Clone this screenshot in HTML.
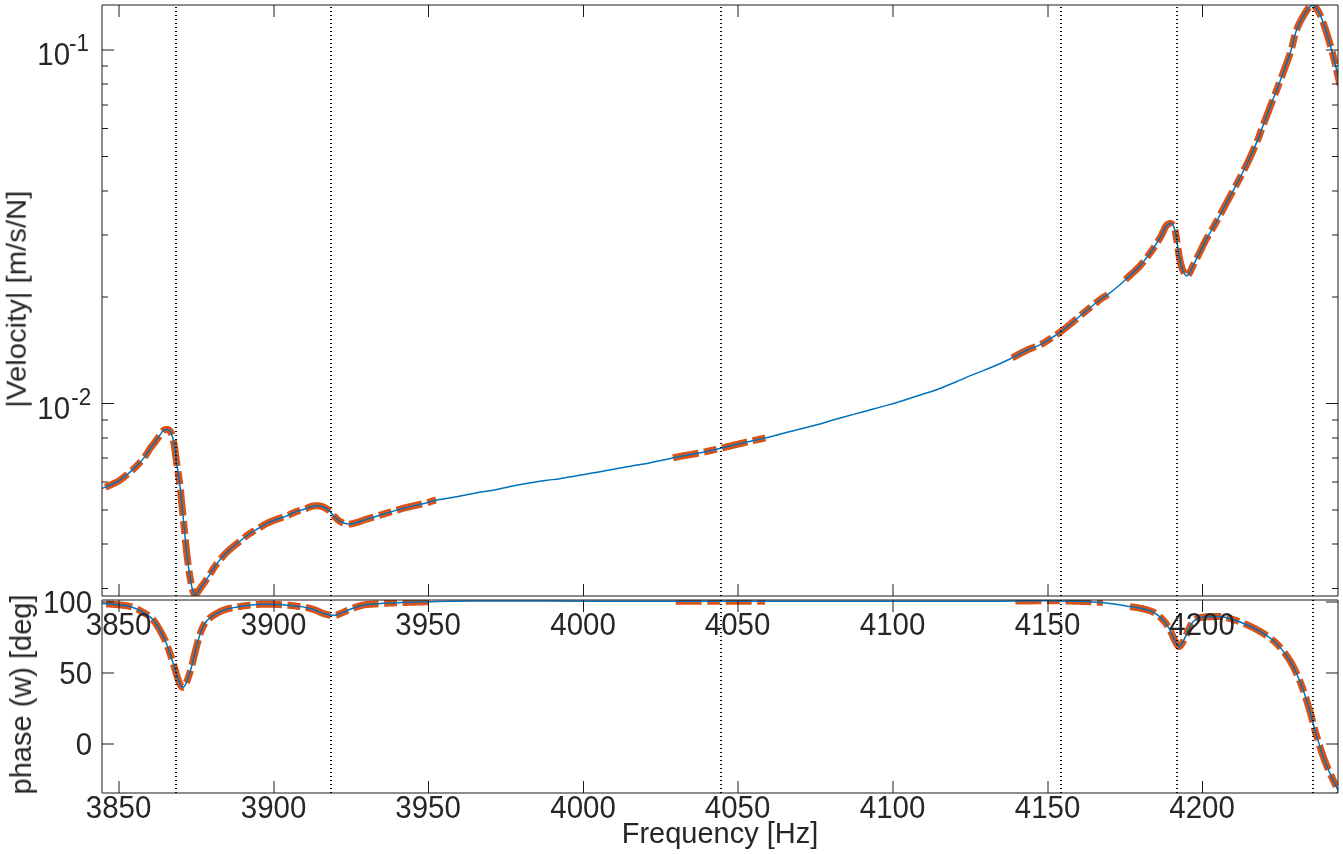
<!DOCTYPE html><html><head><meta charset="utf-8"><style>html,body{margin:0;padding:0;background:#fff;overflow:hidden}svg{display:block;font-family:"Liberation Sans",sans-serif}text{will-change:transform}</style></head><body>
<svg width="1343" height="854" viewBox="0 0 1343 854">
<rect x="0" y="0" width="1343" height="854" fill="#fff"/>
<defs><clipPath id="c1"><rect x="102" y="5" width="1236" height="591"/></clipPath><clipPath id="c2"><rect x="102" y="600" width="1236" height="193"/></clipPath></defs>
<g clip-path="url(#c1)">
<path d="M105.30,487.20L105.77,487.01L106.25,486.82L106.73,486.62L107.22,486.42L107.71,486.21L108.20,486.01L108.68,485.80L109.15,485.60L109.62,485.39L110.07,485.19L110.50,485.00L110.92,484.81L111.35,484.62L111.77,484.43L112.20,484.24L112.62,484.05L113.05,483.86L113.47,483.67L113.90,483.48L114.32,483.29L114.75,483.09L115.18,482.89L115.60,482.68L116.03,482.47L116.45,482.25L116.88,482.03L117.30,481.80L117.73,481.56L118.15,481.32L118.58,481.06L119.00,480.80L119.42,480.53L119.84,480.25L120.27,479.96L120.69,479.66L121.11,479.36L121.53,479.05L121.95,478.73L122.37,478.41L122.79,478.08L123.21,477.75L123.63,477.41L124.04,477.08L124.46,476.73L124.88,476.39L125.30,476.04L125.72,475.69L126.14,475.35L126.56,475.00L126.98,474.65L127.40,474.30L127.82,473.95L128.24,473.61L128.66,473.26L129.08,472.91L129.50,472.56L129.92,472.21L130.34,471.86L130.76,471.51L131.17,471.15L131.59,470.79L132.01,470.42L132.43,470.05L132.85,469.68L133.27,469.30L133.69,468.92L134.11,468.53L134.53,468.13L134.96,467.73L135.38,467.32L135.80,466.90L136.23,466.47L136.66,466.03L137.10,465.58L137.54,465.12L137.98,464.66L138.43,464.18L138.88,463.70L139.33,463.22L139.77,462.73L140.22,462.24L140.66,461.74L141.10,461.25L141.53,460.76L141.95,460.26L142.37,459.77L142.78,459.29L143.18,458.81L143.56,458.33L143.94,457.86L144.30,457.40L144.65,456.94L144.99,456.48L145.32,456.02L145.64,455.55L145.95,455.09L146.25,454.62L146.54,454.16L146.83,453.70L147.11,453.24L147.39,452.79L147.66,452.34L147.93,451.89L148.19,451.45L148.45,451.02L148.71,450.59L148.97,450.18L149.23,449.77L149.48,449.37L149.74,448.98L150.00,448.60L150.26,448.23L150.51,447.88L150.76,447.54L151.00,447.22L151.25,446.90L151.48,446.59L151.72,446.29L151.95,445.99L152.18,445.70L152.41,445.41L152.64,445.13L152.87,444.85L153.09,444.56L153.32,444.28L153.55,444.00L153.78,443.71L154.00,443.42L154.23,443.12L154.47,442.81L154.70,442.50L154.94,442.18L155.17,441.85L155.41,441.52L155.66,441.19L155.90,440.85L156.14,440.51L156.38,440.17L156.63,439.82L156.87,439.48L157.11,439.14L157.35,438.80L157.59,438.46L157.83,438.12L158.06,437.79L158.30,437.46L158.52,437.13L158.75,436.81L158.97,436.50L159.19,436.20L159.40,435.90L159.61,435.61L159.81,435.31L160.01,435.02L160.20,434.72L160.39,434.43L160.58,434.14L160.76,433.86L160.95,433.57L161.13,433.30L161.31,433.03L161.48,432.76L161.66,432.50L161.84,432.25L162.01,432.01L162.19,431.78L162.37,431.56L162.55,431.35L162.73,431.15L162.91,430.97L163.10,430.80L163.29,430.64L163.48,430.50L163.67,430.36L163.86,430.23L164.05,430.11L164.25,430.01L164.44,429.91L164.64,429.82L164.83,429.74L165.03,429.67L165.22,429.61L165.41,429.55L165.60,429.51L165.79,429.47L165.98,429.44L166.17,429.42L166.36,429.40L166.54,429.39L166.72,429.39L166.90,429.40L167.08,429.41L167.25,429.43L167.43,429.46L167.61,429.49L167.78,429.53L167.96,429.58L168.13,429.64L168.30,429.70L168.47,429.78L168.64,429.86L168.81,429.95L168.98,430.05L169.14,430.15L169.30,430.27L169.46,430.40L169.61,430.54L169.76,430.69L169.91,430.85L170.06,431.02L170.20,431.20L170.34,431.39L170.47,431.60L170.60,431.81L170.73,432.03L170.85,432.26L170.98,432.51L171.09,432.76L171.21,433.02L171.33,433.29L171.44,433.57L171.55,433.87L171.66,434.17L171.76,434.48L171.87,434.80L171.98,435.12L172.08,435.46L172.19,435.81L172.29,436.16L172.40,436.53L172.50,436.90L172.60,437.28L172.71,437.67L172.81,438.07L172.91,438.48L173.01,438.90L173.10,439.33L173.20,439.77L173.29,440.22L173.39,440.67L173.48,441.14L173.57,441.61L173.67,442.10L173.76,442.59L173.85,443.09L173.94,443.60L174.03,444.12L174.12,444.65L174.22,445.19L174.31,445.74L174.40,446.30L174.49,446.87L174.58,447.46L174.67,448.06L174.76,448.68L174.85,449.31L174.94,449.96L175.03,450.61L175.12,451.27L175.21,451.94L175.30,452.62L175.39,453.30L175.48,453.98L175.57,454.67L175.66,455.35L175.75,456.04L175.84,456.72L175.93,457.40L176.02,458.07L176.11,458.74L176.20,459.40L176.29,460.05L176.39,460.71L176.48,461.36L176.57,462.02L176.67,462.68L176.76,463.33L176.86,463.99L176.95,464.64L177.05,465.30L177.14,465.95L177.24,466.61L177.34,467.26L177.43,467.91L177.53,468.57L177.62,469.23L177.72,469.88L177.81,470.53L177.91,471.19L178.00,471.85L178.10,472.50L178.20,473.15L178.29,473.80L178.39,474.45L178.49,475.10L178.59,475.74L178.69,476.39L178.78,477.03L178.88,477.68L178.98,478.32L179.08,478.97L179.18,479.62L179.28,480.27L179.37,480.92L179.47,481.57L179.56,482.23L179.65,482.90L179.74,483.56L179.83,484.24L179.92,484.92L180.00,485.60L180.08,486.29L180.16,486.97L180.23,487.66L180.31,488.34L180.38,489.02L180.44,489.71L180.51,490.40L180.58,491.09L180.64,491.79L180.71,492.49L180.77,493.20L180.84,493.92L180.90,494.64L180.97,495.37L181.03,496.12L181.10,496.87L181.17,497.63L181.25,498.41L181.32,499.20L181.40,500.00L181.48,500.82L181.56,501.64L181.65,502.48L181.73,503.32L181.81,504.18L181.90,505.04L181.99,505.91L182.08,506.80L182.17,507.69L182.26,508.59L182.35,509.50L182.44,510.41L182.53,511.33L182.63,512.27L182.72,513.20L182.81,514.15L182.91,515.10L183.01,516.06L183.10,517.03L183.20,518.00L183.30,518.98L183.40,519.98L183.50,521.00L183.60,522.03L183.70,523.07L183.81,524.12L183.91,525.18L184.02,526.25L184.12,527.32L184.23,528.39L184.34,529.47L184.45,530.55L184.55,531.63L184.66,532.70L184.77,533.77L184.88,534.84L184.98,535.89L185.09,536.94L185.19,537.98L185.30,539.00L185.40,540.01L185.51,541.02L185.61,542.03L185.71,543.02L185.81,544.02L185.91,545.01L186.01,545.99L186.11,546.97L186.21,547.95L186.31,548.93L186.41,549.91L186.51,550.88L186.61,551.86L186.72,552.83L186.83,553.81L186.94,554.78L187.05,555.76L187.16,556.74L187.28,557.72L187.40,558.70L187.52,559.69L187.65,560.70L187.78,561.72L187.92,562.75L188.05,563.79L188.19,564.83L188.33,565.87L188.47,566.92L188.61,567.95L188.76,568.99L188.90,570.01L189.05,571.02L189.19,572.02L189.34,573.00L189.48,573.97L189.63,574.91L189.77,575.82L189.92,576.71L190.06,577.57L190.20,578.40L190.34,579.20L190.48,580.00L190.62,580.78L190.76,581.55L190.90,582.30L191.04,583.04L191.18,583.76L191.32,584.46L191.45,585.14L191.59,585.81L191.73,586.45L191.87,587.07L192.01,587.67L192.15,588.24L192.29,588.79L192.43,589.31L192.57,589.80L192.72,590.26L192.86,590.70L193.00,591.10L193.14,591.48L193.27,591.83L193.40,592.16L193.52,592.47L193.64,592.76L193.76,593.02L193.87,593.25L193.99,593.47L194.11,593.65L194.23,593.81L194.36,593.95L194.49,594.05L194.63,594.13L194.78,594.19L194.93,594.21L195.10,594.21L195.28,594.18L195.47,594.11L195.68,594.02L195.90,593.90L196.14,593.74L196.39,593.52L196.66,593.27L196.94,592.97L197.23,592.63L197.53,592.26L197.85,591.86L198.17,591.43L198.49,590.98L198.83,590.51L199.16,590.03L199.50,589.53L199.84,589.03L200.19,588.52L200.53,588.01L200.87,587.51L201.21,587.01L201.55,586.52L201.88,586.05L202.20,585.60L202.52,585.16L202.84,584.71L203.16,584.26L203.49,583.80L203.81,583.35L204.13,582.89L204.46,582.43L204.78,581.96L205.11,581.49L205.43,581.02L205.76,580.55L206.08,580.08L206.41,579.60L206.74,579.12L207.06,578.64L207.39,578.16L207.72,577.67L208.05,577.18L208.37,576.69L208.70,576.20L209.03,575.70L209.35,575.20L209.68,574.70L210.00,574.18L210.32,573.67L210.64,573.15L210.97,572.63L211.29,572.10L211.61,571.58L211.94,571.05L212.26,570.52L212.59,570.00L212.92,569.47L213.25,568.95L213.58,568.43L213.92,567.92L214.26,567.40L214.60,566.90L214.95,566.40L215.30,565.90L215.65,565.41L216.01,564.92L216.38,564.42L216.74,563.93L217.11,563.44L217.48,562.95L217.86,562.47L218.24,561.98L218.61,561.50L218.99,561.02L219.37,560.55L219.76,560.08L220.14,559.61L220.52,559.15L220.90,558.70L221.29,558.24L221.67,557.80L222.05,557.36L222.42,556.93L222.80,556.50L223.17,556.08L223.54,555.67L223.91,555.27L224.27,554.88L224.63,554.49L224.99,554.11L225.35,553.73L225.71,553.36L226.07,553.00L226.44,552.63L226.80,552.27L227.17,551.91L227.54,551.55L227.92,551.19L228.30,550.83L228.68,550.47L229.08,550.11L229.48,549.74L229.88,549.37L230.30,549.00L230.72,548.62L231.16,548.25L231.60,547.87L232.04,547.50L232.50,547.12L232.95,546.75L233.42,546.37L233.89,546.00L234.36,545.63L234.83,545.25L235.31,544.88L235.79,544.50L236.27,544.12L236.75,543.75L237.23,543.38L237.70,543.00L238.18,542.62L238.66,542.25L239.13,541.88L239.60,541.50L240.07,541.12L240.54,540.74L241.00,540.36L241.47,539.97L241.94,539.58L242.41,539.19L242.88,538.80L243.35,538.41L243.82,538.02L244.29,537.63L244.76,537.25L245.24,536.86L245.71,536.48L246.18,536.11L246.65,535.74L247.12,535.38L247.59,535.02L248.06,534.67L248.53,534.33L249.00,534.00L249.47,533.68L249.94,533.36L250.41,533.05L250.88,532.75L251.36,532.46L251.83,532.17L252.30,531.89L252.77,531.61L253.25,531.33L253.72,531.06L254.19,530.79L254.66,530.53L255.13,530.26L255.60,530.00L256.07,529.73L256.54,529.47L257.01,529.21L257.47,528.94L257.94,528.67L258.40,528.40L258.86,528.13L259.32,527.85L259.78,527.57L260.24,527.30L260.69,527.02L261.15,526.74L261.60,526.46L262.05,526.19L262.50,525.91L262.96,525.64L263.41,525.37L263.86,525.10L264.31,524.83L264.76,524.57L265.22,524.31L265.67,524.06L266.13,523.81L266.58,523.57L267.04,523.33L267.50,523.10L267.96,522.88L268.42,522.66L268.88,522.44L269.35,522.23L269.81,522.03L270.27,521.83L270.74,521.64L271.20,521.44L271.67,521.25L272.13,521.07L272.60,520.89L273.06,520.70L273.53,520.53L274.00,520.35L274.46,520.17L274.93,520.00L275.40,519.82L275.87,519.65L276.33,519.47L276.80,519.30L277.27,519.13L277.74,518.96L278.20,518.80L278.67,518.64L279.14,518.48L279.61,518.33L280.08,518.18L280.55,518.02L281.02,517.87L281.49,517.73L281.96,517.57L282.44,517.42L282.91,517.27L283.38,517.11L283.85,516.96L284.32,516.79L284.79,516.63L285.26,516.46L285.73,516.28L286.20,516.10L286.67,515.91L287.14,515.71L287.61,515.51L288.08,515.30L288.55,515.09L289.02,514.87L289.49,514.65L289.96,514.43L290.44,514.21L290.91,513.98L291.38,513.76L291.85,513.53L292.32,513.31L292.79,513.10L293.26,512.88L293.73,512.67L294.20,512.47L294.66,512.27L295.13,512.08L295.60,511.90L296.07,511.73L296.55,511.56L297.03,511.39L297.51,511.23L298.00,511.08L298.48,510.92L298.97,510.78L299.46,510.63L299.94,510.49L300.43,510.35L300.90,510.21L301.38,510.08L301.85,509.94L302.31,509.81L302.77,509.67L303.21,509.54L303.65,509.41L304.08,509.27L304.50,509.14L304.90,509.00L305.29,508.86L305.67,508.72L306.04,508.57L306.39,508.43L306.74,508.28L307.08,508.13L307.41,507.99L307.73,507.84L308.05,507.70L308.37,507.56L308.68,507.42L308.99,507.28L309.30,507.15L309.61,507.02L309.91,506.90L310.22,506.79L310.54,506.68L310.85,506.58L311.17,506.48L311.50,506.40L311.83,506.32L312.16,506.25L312.50,506.18L312.84,506.12L313.17,506.06L313.51,506.01L313.85,505.96L314.19,505.92L314.53,505.88L314.86,505.85L315.20,505.82L315.53,505.80L315.86,505.78L316.19,505.77L316.52,505.76L316.84,505.76L317.16,505.76L317.48,505.77L317.79,505.78L318.10,505.80L318.40,505.82L318.70,505.85L318.99,505.88L319.28,505.92L319.57,505.96L319.85,506.00L320.13,506.05L320.41,506.11L320.69,506.17L320.96,506.23L321.24,506.30L321.51,506.38L321.78,506.46L322.05,506.55L322.32,506.64L322.60,506.74L322.87,506.85L323.14,506.96L323.42,507.08L323.70,507.20L323.98,507.33L324.26,507.47L324.54,507.61L324.82,507.75L325.10,507.91L325.38,508.07L325.66,508.23L325.94,508.40L326.22,508.57L326.50,508.76L326.78,508.94L327.06,509.14L327.34,509.34L327.62,509.54L327.90,509.75L328.18,509.97L328.46,510.19L328.74,510.42L329.02,510.66L329.30,510.90L329.58,511.15L329.86,511.42L330.14,511.70L330.42,511.99L330.70,512.29L330.98,512.60L331.26,512.91L331.54,513.23L331.82,513.56L332.10,513.89L332.38,514.22L332.66,514.55L332.94,514.87L333.22,515.20L333.50,515.52L333.78,515.83L334.06,516.14L334.34,516.44L334.62,516.72L334.90,517.00L335.18,517.27L335.45,517.54L335.72,517.80L335.99,518.07L336.26,518.33L336.52,518.59L336.78,518.84L337.05,519.09L337.31,519.34L337.58,519.58L337.85,519.82L338.12,520.05L338.40,520.28L338.68,520.50L338.97,520.72L339.26,520.93L339.56,521.13L339.86,521.33L340.18,521.52L340.50,521.70L340.83,521.88L341.17,522.05L341.52,522.22L341.87,522.39L342.23,522.55L342.59,522.71L342.96,522.86L343.33,523.01L343.71,523.15L344.09,523.28L344.48,523.41L344.87,523.52L345.25,523.63L345.65,523.73L346.04,523.82L346.43,523.90L346.82,523.97L347.22,524.02L347.61,524.07L348.00,524.10L348.39,524.12L348.77,524.12L349.16,524.12L349.54,524.10L349.92,524.07L350.30,524.03L350.69,523.98L351.07,523.92L351.46,523.85L351.85,523.78L352.24,523.69L352.64,523.60L353.05,523.50L353.46,523.40L353.88,523.29L354.30,523.18L354.74,523.07L355.18,522.95L355.64,522.82L356.10,522.70L356.57,522.57L357.05,522.43L357.54,522.28L358.03,522.13L358.53,521.96L359.03,521.79L359.55,521.62L360.06,521.44L360.59,521.25L361.12,521.06L361.66,520.87L362.20,520.67L362.75,520.48L363.31,520.28L363.87,520.08L364.45,519.88L365.02,519.68L365.61,519.49L366.20,519.29L366.80,519.10L367.41,518.91L368.03,518.72L368.66,518.52L369.31,518.33L369.96,518.13L370.62,517.93L371.29,517.73L371.97,517.53L372.65,517.33L373.33,517.12L374.02,516.92L374.71,516.72L375.40,516.52L376.09,516.31L376.79,516.11L377.48,515.91L378.16,515.70L378.85,515.50L379.53,515.30L380.20,515.10L380.87,514.90L381.55,514.70L382.24,514.49L382.92,514.29L383.61,514.08L384.31,513.87L385.00,513.66L385.69,513.46L386.38,513.25L387.07,513.04L387.75,512.84L388.43,512.64L389.11,512.43L389.78,512.23L390.44,512.04L391.09,511.84L391.74,511.65L392.37,511.46L392.99,511.28L393.60,511.10L394.19,510.92L394.77,510.75L395.34,510.58L395.90,510.42L396.44,510.25L396.98,510.09L397.50,509.93L398.03,509.78L398.54,509.62L399.06,509.47L399.57,509.32L400.08,509.17L400.59,509.02L401.10,508.87L401.62,508.73L402.14,508.58L402.67,508.43L403.20,508.29L403.75,508.14L404.30,508.00L404.86,507.86L405.44,507.71L406.02,507.57L406.61,507.43L407.20,507.29L407.80,507.14L408.40,507.01L409.00,506.87L409.60,506.73L410.21,506.59L410.81,506.46L411.41,506.32L412.01,506.19L412.60,506.06L413.19,505.93L413.77,505.80L414.34,505.67L414.90,505.55L415.46,505.42L416.00,505.30L416.53,505.18L417.06,505.06L417.58,504.95L418.10,504.84L418.60,504.73L419.11,504.62L419.61,504.51L420.10,504.41L420.59,504.30L421.08,504.20L421.56,504.10L422.04,503.99L422.51,503.89L422.99,503.78L423.46,503.67L423.93,503.56L424.40,503.45L424.87,503.34L425.33,503.22L425.80,503.10L426.27,502.97L426.74,502.84L427.22,502.70L427.70,502.56L428.17,502.42L428.65,502.27L429.12,502.12L429.60,501.96L430.07,501.81L430.53,501.66L430.99,501.51L431.44,501.37L431.89,501.22L432.32,501.09L432.75,500.95L433.16,500.83L433.57,500.71L433.96,500.60L434.34,500.49L434.70,500.40L435.03,500.32L435.32,500.25L435.57,500.20L435.79,500.15L435.98,500.12" stroke="#D95319" stroke-width="7" stroke-dasharray="26 5.5 13 5.5" fill="none"/>
<path d="M673.02,457.90L673.59,457.76L674.17,457.63L674.75,457.50L675.34,457.37L675.94,457.23L676.56,457.10L677.19,456.96L677.85,456.83L678.54,456.69L679.25,456.55L680.00,456.40L680.78,456.25L681.58,456.11L682.41,455.96L683.26,455.81L684.12,455.66L685.00,455.51L685.89,455.37L686.80,455.22L687.71,455.06L688.64,454.91L689.57,454.76L690.50,454.60L691.44,454.45L692.38,454.29L693.31,454.13L694.24,453.97L695.17,453.81L696.09,453.64L697.00,453.47L697.90,453.30L698.79,453.13L699.68,452.95L700.57,452.77L701.46,452.59L702.35,452.41L703.24,452.23L704.13,452.04L705.02,451.85L705.91,451.67L706.80,451.48L707.69,451.28L708.58,451.09L709.47,450.89L710.36,450.70L711.25,450.50L712.14,450.30L713.03,450.10L713.92,449.90L714.81,449.70L715.70,449.50L716.59,449.30L717.49,449.09L718.38,448.88L719.27,448.67L720.17,448.46L721.06,448.24L721.96,448.03L722.85,447.81L723.75,447.59L724.64,447.37L725.54,447.16L726.44,446.94L727.33,446.72L728.23,446.50L729.12,446.28L730.02,446.06L730.91,445.84L731.81,445.63L732.70,445.41L733.60,445.20L734.50,444.99L735.39,444.78L736.28,444.56L737.18,444.35L738.08,444.14L738.97,443.93L739.87,443.71L740.76,443.50L741.66,443.29L742.55,443.08L743.45,442.87L744.34,442.66L745.23,442.45L746.13,442.24L747.02,442.03L747.92,441.83L748.81,441.62L749.71,441.41L750.61,441.21L751.50,441.00L752.40,440.80L753.29,440.60L754.19,440.40L755.08,440.20L755.98,440.00L756.87,439.81L757.77,439.61L758.66,439.42L759.56,439.23L760.46,439.03L761.35,438.84L762.25,438.64L763.14,438.44L764.04,438.25L764.93,438.04L765.83,437.84L766.72,437.64L767.61,437.43L768.51,437.22L769.40,437.00" stroke="#D95319" stroke-width="7" stroke-dasharray="26 5.5 13 5.5" fill="none"/>
<path d="M1012.12,357.84L1013.05,357.36L1013.97,356.88L1014.90,356.39L1015.84,355.90L1016.77,355.40L1017.70,354.91L1018.62,354.41L1019.54,353.92L1020.44,353.44L1021.34,352.96L1022.23,352.49L1023.10,352.04L1023.96,351.60L1024.80,351.17L1025.62,350.76L1026.42,350.37L1027.20,350.00L1027.96,349.65L1028.70,349.33L1029.42,349.02L1030.13,348.73L1030.83,348.45L1031.51,348.18L1032.19,347.93L1032.84,347.69L1033.49,347.45L1034.12,347.22L1034.75,347.00L1035.36,346.78L1035.97,346.56L1036.57,346.34L1037.16,346.11L1037.74,345.89L1038.31,345.65L1038.88,345.41L1039.44,345.16L1040.00,344.90L1040.54,344.63L1041.07,344.37L1041.58,344.11L1042.07,343.84L1042.55,343.58L1043.01,343.32L1043.47,343.05L1043.92,342.79L1044.36,342.52L1044.80,342.25L1045.24,341.98L1045.67,341.70L1046.11,341.42L1046.55,341.14L1047.00,340.85L1047.46,340.55L1047.92,340.25L1048.40,339.94L1048.89,339.62L1049.40,339.30L1049.92,338.97L1050.44,338.64L1050.97,338.30L1051.51,337.96L1052.05,337.61L1052.60,337.26L1053.15,336.91L1053.70,336.55L1054.26,336.18L1054.83,335.81L1055.39,335.44L1055.96,335.06L1056.53,334.67L1057.11,334.28L1057.69,333.88L1058.27,333.48L1058.85,333.07L1059.43,332.65L1060.02,332.23L1060.60,331.80L1061.19,331.36L1061.77,330.92L1062.36,330.47L1062.95,330.02L1063.54,329.56L1064.13,329.09L1064.72,328.62L1065.32,328.14L1065.92,327.65L1066.53,327.16L1067.13,326.67L1067.74,326.17L1068.36,325.66L1068.98,325.15L1069.60,324.64L1070.23,324.12L1070.86,323.59L1071.50,323.07L1072.15,322.54L1072.80,322.00L1073.46,321.46L1074.13,320.91L1074.80,320.34L1075.48,319.78L1076.17,319.20L1076.86,318.62L1077.56,318.03L1078.27,317.44L1078.97,316.84L1079.68,316.24L1080.39,315.64L1081.11,315.04L1081.82,314.44L1082.54,313.84L1083.25,313.24L1083.96,312.64L1084.68,312.05L1085.39,311.46L1086.10,310.88L1086.80,310.30L1087.51,309.72L1088.24,309.12L1088.98,308.52L1089.74,307.90L1090.50,307.28L1091.26,306.66L1092.03,306.03L1092.80,305.41L1093.56,304.79L1094.32,304.18L1095.07,303.58L1095.80,302.99L1096.52,302.41L1097.23,301.86L1097.91,301.32L1098.56,300.80L1099.20,300.31L1099.80,299.84L1100.37,299.40L1100.90,299.00L1101.39,298.64L1101.83,298.32L1102.23,298.04L1102.60,297.80L1102.93,297.58L1103.23,297.39L1103.51,297.23L1103.77,297.08L1104.02,296.94L1104.27,296.81L1104.51,296.68L1104.75,296.54L1105.01,296.40L1105.27,296.25L1105.55,296.08L1105.86,295.88L1106.19,295.67L1106.55,295.41L1106.96,295.13L1107.40,294.80L1107.88,294.44" stroke="#D95319" stroke-width="7" stroke-dasharray="26 5.5 13 5.5" fill="none"/>
<path d="M1125.41,279.74L1125.92,279.27L1126.42,278.79L1126.93,278.31L1127.44,277.83L1127.94,277.35L1128.45,276.87L1128.96,276.38L1129.48,275.89L1130.00,275.40L1130.52,274.91L1131.05,274.43L1131.57,273.95L1132.09,273.47L1132.62,272.99L1133.14,272.52L1133.66,272.05L1134.19,271.57L1134.71,271.09L1135.24,270.61L1135.76,270.12L1136.29,269.62L1136.81,269.12L1137.34,268.61L1137.87,268.09L1138.39,267.56L1138.92,267.01L1139.45,266.46L1139.97,265.89L1140.50,265.30L1141.03,264.70L1141.56,264.08L1142.10,263.45L1142.63,262.81L1143.17,262.15L1143.71,261.49L1144.25,260.81L1144.79,260.13L1145.32,259.44L1145.86,258.74L1146.40,258.03L1146.93,257.32L1147.47,256.61L1148.00,255.90L1148.53,255.18L1149.05,254.46L1149.57,253.74L1150.08,253.03L1150.59,252.31L1151.10,251.60L1151.60,250.88L1152.11,250.15L1152.63,249.41L1153.14,248.66L1153.65,247.90L1154.17,247.13L1154.68,246.36L1155.19,245.59L1155.69,244.82L1156.19,244.05L1156.68,243.28L1157.16,242.53L1157.64,241.77L1158.10,241.03L1158.55,240.30L1158.99,239.59L1159.42,238.89L1159.83,238.20L1160.22,237.54L1160.60,236.90L1160.96,236.27L1161.30,235.64L1161.63,235.02L1161.94,234.41L1162.24,233.80L1162.52,233.20L1162.80,232.60L1163.06,232.02L1163.32,231.45L1163.56,230.90L1163.80,230.36L1164.03,229.84L1164.26,229.33L1164.49,228.84L1164.71,228.38L1164.92,227.93L1165.14,227.51L1165.36,227.12L1165.58,226.74L1165.80,226.40L1166.02,226.08L1166.23,225.80L1166.44,225.54L1166.64,225.30L1166.84,225.09L1167.04,224.90L1167.23,224.73L1167.41,224.58L1167.59,224.44L1167.77,224.32L1167.95,224.22L1168.13,224.13L1168.30,224.05L1168.47,223.98L1168.65,223.92L1168.82,223.87L1168.99,223.82L1169.16,223.78L1169.33,223.74L1169.50,223.70L1169.67,223.66L1169.84,223.63L1170.01,223.60L1170.18,223.59L1170.35,223.57L1170.52,223.57L1170.68,223.58L1170.84,223.59L1171.01,223.62L1171.17,223.66L1171.33,223.71L1171.49,223.77L1171.64,223.84L1171.80,223.93L1171.95,224.04L1172.11,224.15L1172.26,224.29L1172.41,224.44L1172.55,224.61L1172.70,224.80L1172.84,225.00L1172.99,225.22L1173.13,225.45L1173.27,225.70L1173.40,225.96L1173.54,226.24L1173.67,226.52L1173.81,226.83L1173.94,227.14L1174.07,227.47L1174.20,227.82L1174.32,228.18L1174.45,228.56L1174.58,228.95L1174.70,229.35L1174.82,229.77L1174.94,230.21L1175.06,230.66L1175.18,231.12L1175.30,231.60L1175.42,232.10L1175.53,232.63L1175.64,233.18L1175.75,233.75L1175.86,234.34L1175.97,234.94L1176.07,235.57L1176.18,236.21L1176.28,236.86L1176.38,237.52L1176.48,238.19L1176.58,238.86L1176.68,239.55L1176.79,240.23L1176.89,240.92L1176.99,241.60L1177.09,242.28L1177.19,242.96L1177.30,243.64L1177.40,244.30L1177.50,244.97L1177.61,245.64L1177.71,246.33L1177.81,247.03L1177.91,247.73L1178.01,248.44L1178.11,249.15L1178.21,249.86L1178.31,250.58L1178.41,251.29L1178.51,252.00L1178.62,252.70L1178.72,253.40L1178.83,254.09L1178.93,254.78L1179.04,255.45L1179.15,256.11L1179.27,256.76L1179.38,257.39L1179.50,258.00L1179.62,258.60L1179.74,259.20L1179.86,259.78L1179.99,260.36L1180.11,260.93L1180.23,261.50L1180.36,262.05L1180.49,262.60L1180.62,263.14L1180.75,263.68L1180.88,264.20L1181.02,264.71L1181.16,265.22L1181.30,265.72L1181.44,266.20L1181.59,266.68L1181.74,267.15L1181.89,267.61L1182.04,268.06L1182.20,268.50L1182.36,268.94L1182.53,269.37L1182.71,269.81L1182.89,270.25L1183.07,270.68L1183.26,271.10L1183.44,271.52L1183.64,271.93L1183.83,272.32L1184.03,272.71L1184.22,273.07L1184.42,273.42L1184.61,273.76L1184.80,274.07L1184.99,274.36L1185.18,274.62L1185.37,274.86L1185.55,275.07L1185.73,275.25L1185.90,275.40L1186.07,275.52L1186.23,275.62L1186.39,275.69L1186.54,275.73L1186.69,275.76L1186.84,275.76L1186.99,275.74L1187.13,275.70L1187.27,275.64L1187.42,275.56L1187.56,275.46L1187.71,275.34L1187.86,275.21L1188.01,275.05L1188.16,274.88L1188.32,274.70L1188.48,274.50L1188.65,274.28L1188.82,274.05L1189.00,273.80L1189.18,273.54L1189.37,273.25L1189.55,272.94L1189.73,272.61L1189.92,272.26L1190.11,271.89L1190.30,271.50L1190.50,271.09L1190.69,270.67L1190.89,270.24L1191.10,269.79L1191.31,269.33L1191.52,268.85L1191.74,268.37L1191.97,267.88L1192.20,267.37L1192.44,266.86L1192.69,266.35L1192.94,265.83L1193.20,265.30L1193.47,264.76L1193.75,264.21L1194.04,263.63L1194.34,263.04L1194.65,262.44L1194.96,261.82L1195.29,261.19L1195.61,260.56L1195.94,259.91L1196.28,259.26L1196.61,258.60L1196.95,257.94L1197.29,257.27L1197.63,256.61L1197.96,255.95L1198.30,255.29L1198.63,254.63L1198.96,253.98L1199.28,253.33L1199.60,252.70L1199.91,252.07L1200.22,251.44L1200.53,250.81L1200.84,250.17L1201.14,249.54L1201.45,248.90L1201.75,248.27L1202.05,247.64L1202.35,247.00L1202.66,246.37L1202.96,245.74L1203.26,245.10L1203.57,244.47L1203.88,243.84L1204.19,243.21L1204.51,242.59L1204.82,241.96L1205.14,241.34L1205.47,240.72L1205.80,240.10L1206.14,239.48L1206.48,238.87L1206.82,238.25L1207.17,237.64L1207.53,237.03L1207.89,236.42L1208.25,235.81L1208.61,235.20L1208.97,234.59L1209.34,233.99L1209.70,233.38L1210.07,232.78L1210.43,232.18L1210.79,231.58L1211.15,230.98L1211.51,230.38L1211.86,229.78L1212.21,229.19L1212.56,228.59L1212.90,228.00L1213.23,227.42L1213.55,226.85L1213.86,226.31L1214.16,225.77L1214.46,225.25L1214.75,224.73L1215.03,224.21L1215.32,223.70L1215.60,223.18L1215.89,222.66L1216.19,222.12L1216.49,221.58L1216.79,221.02L1217.11,220.44L1217.44,219.84L1217.78,219.21L1218.13,218.56L1218.50,217.87L1218.89,217.16L1219.30,216.40L1219.73,215.60L1220.18,214.76L1220.66,213.89L1221.15,212.98L1221.65,212.04L1222.17,211.07L1222.70,210.08L1223.24,209.07L1223.79,208.05L1224.34,207.02L1224.89,205.98L1225.45,204.94L1226.00,203.90L1226.56,202.87L1227.10,201.84L1227.65,200.83L1228.18,199.84L1228.70,198.87L1229.21,197.92L1229.70,197.00L1230.18,196.11L1230.65,195.24L1231.11,194.39L1231.57,193.55L1232.02,192.73L1232.46,191.91L1232.90,191.11L1233.34,190.31L1233.77,189.52L1234.21,188.72L1234.64,187.93L1235.07,187.13L1235.51,186.33L1235.95,185.51L1236.39,184.69L1236.84,183.85L1237.29,182.99L1237.75,182.12L1238.22,181.22L1238.70,180.30L1239.19,179.36L1239.69,178.39L1240.19,177.41L1240.70,176.41L1241.22,175.40L1241.75,174.38L1242.28,173.34L1242.81,172.29L1243.34,171.24L1243.88,170.18L1244.41,169.12L1244.94,168.06L1245.47,166.99L1245.99,165.93L1246.51,164.87L1247.03,163.82L1247.53,162.77L1248.03,161.74L1248.52,160.71L1249.00,159.70L1249.47,158.69L1249.95,157.66L1250.43,156.62L1250.90,155.58L1251.38,154.53L1251.85,153.48L1252.31,152.42L1252.78,151.38L1253.24,150.33L1253.69,149.30L1254.13,148.28L1254.57,147.27L1254.99,146.28L1255.40,145.32L1255.81,144.37L1256.20,143.45L1256.57,142.56L1256.93,141.71L1257.27,140.88L1257.60,140.10L1257.90,139.37L1258.18,138.69L1258.43,138.07L1258.65,137.49L1258.86,136.96L1259.05,136.45L1259.23,135.97L1259.40,135.51L1259.56,135.07L1259.71,134.62L1259.87,134.18L1260.02,133.74L1260.19,133.27L1260.35,132.79L1260.53,132.28L1260.73,131.74L1260.94,131.16L1261.17,130.53L1261.42,129.84L1261.70,129.10L1262.00,128.30L1262.32,127.46L1262.65,126.59L1262.99,125.67L1263.35,124.73L1263.72,123.76L1264.10,122.76L1264.48,121.74L1264.88,120.71L1265.28,119.66L1265.68,118.59L1266.08,117.52L1266.49,116.45L1266.90,115.38L1267.31,114.30L1267.72,113.24L1268.12,112.18L1268.52,111.14L1268.91,110.11L1269.30,109.10L1269.68,108.10L1270.07,107.10L1270.46,106.10L1270.84,105.09L1271.23,104.09L1271.62,103.08L1272.02,102.08L1272.41,101.08L1272.80,100.07L1273.19,99.07L1273.58,98.07L1273.97,97.07L1274.35,96.07L1274.74,95.08L1275.12,94.09L1275.50,93.10L1275.88,92.12L1276.26,91.14L1276.63,90.17L1277.00,89.20L1277.37,88.24L1277.73,87.29L1278.09,86.34L1278.44,85.40L1278.80,84.47L1279.15,83.54L1279.50,82.62L1279.85,81.70L1280.20,80.78L1280.54,79.86L1280.89,78.94L1281.23,78.02L1281.58,77.09L1281.92,76.17L1282.27,75.24L1282.61,74.30L1282.96,73.36L1283.30,72.42L1283.65,71.46L1284.00,70.50L1284.35,69.53L1284.71,68.55L1285.06,67.58L1285.42,66.59L1285.79,65.60L1286.15,64.61L1286.51,63.62L1286.87,62.62L1287.23,61.62L1287.59,60.61L1287.95,59.61L1288.31,58.60L1288.66,57.59L1289.01,56.58L1289.36,55.57L1289.70,54.55L1290.03,53.54L1290.36,52.53L1290.68,51.51L1291.00,50.50L1291.31,49.48L1291.60,48.45L1291.88,47.42L1292.14,46.38L1292.41,45.33L1292.66,44.28L1292.91,43.23L1293.15,42.17L1293.40,41.12L1293.64,40.07L1293.89,39.02L1294.14,37.98L1294.40,36.94L1294.66,35.92L1294.94,34.90L1295.22,33.89L1295.52,32.90L1295.83,31.91L1296.15,30.95L1296.50,30.00L1296.86,29.06L1297.25,28.11L1297.65,27.16L1298.06,26.21L1298.49,25.26L1298.93,24.32L1299.38,23.39L1299.83,22.46L1300.29,21.54L1300.76,20.64L1301.22,19.76L1301.69,18.89L1302.15,18.05L1302.61,17.22L1303.07,16.43L1303.52,15.66L1303.96,14.92L1304.38,14.21L1304.80,13.54L1305.20,12.90L1305.59,12.29L1305.97,11.69L1306.34,11.10L1306.71,10.53L1307.07,9.98L1307.42,9.44L1307.78,8.93L1308.12,8.45L1308.47,7.99L1308.81,7.56L1309.14,7.16L1309.48,6.79L1309.82,6.46L1310.15,6.16L1310.49,5.91L1310.83,5.70L1311.17,5.53L1311.51,5.40L1311.85,5.33L1312.20,5.30L1312.55,5.32L1312.90,5.39L1313.25,5.51L1313.60,5.67L1313.95,5.87L1314.30,6.11L1314.65,6.39L1315.00,6.71L1315.35,7.07L1315.70,7.46L1316.05,7.88L1316.40,8.33L1316.75,8.81L1317.10,9.33L1317.45,9.86L1317.80,10.43L1318.15,11.01L1318.50,11.62L1318.85,12.25L1319.20,12.90L1319.55,13.58L1319.90,14.29L1320.25,15.05L1320.60,15.84L1320.95,16.66L1321.30,17.51L1321.65,18.39L1322.00,19.30L1322.34,20.23L1322.69,21.19L1323.04,22.17L1323.39,23.16L1323.74,24.18L1324.09,25.21L1324.44,26.25L1324.79,27.30L1325.14,28.37L1325.50,29.44L1325.85,30.52L1326.20,31.60L1326.56,32.70L1326.92,33.85L1327.29,35.03L1327.66,36.24L1328.03,37.47L1328.41,38.73L1328.79,40.00L1329.16,41.29L1329.54,42.59L1329.91,43.89L1330.28,45.20L1330.65,46.49L1331.01,47.78L1331.37,49.06L1331.71,50.32L1332.05,51.56L1332.38,52.77L1332.70,53.95L1333.01,55.09L1333.30,56.20L1333.58,57.28L1333.86,58.35L1334.13,59.42L1334.39,60.47L1334.64,61.51L1334.88,62.54L1335.12,63.56L1335.36,64.56L1335.58,65.54L1335.80,66.51L1336.01,67.46L1336.22,68.39L1336.42,69.30L1336.62,70.19L1336.81,71.05L1337.00,71.90L1337.18,72.71L1337.36,73.50L1337.53,74.27L1337.70,75.00L1337.87,75.71L1338.03,76.40L1338.18,77.07L1338.33,77.72L1338.48,78.35L1338.62,78.96L1338.75,79.55L1338.88,80.11L1339.01,80.66L1339.12,81.17L1339.24,81.67L1339.35,82.14L1339.45,82.59L1339.55,83.01L1339.64,83.41L1339.72,83.78L1339.80,84.13L1339.87,84.44L1339.94,84.74" stroke="#D95319" stroke-width="7" stroke-dasharray="26 5.5 13 5.5" fill="none"/>
<path d="M102.1,488.5C103.5,487.9 107.7,486.3 110.5,485.0C113.3,483.7 116.2,482.6 119.0,480.8C121.8,479.0 124.6,476.6 127.4,474.3C130.2,472.0 133.0,469.7 135.8,466.9C138.6,464.1 141.9,460.4 144.3,457.4C146.7,454.3 148.3,451.1 150.0,448.6C151.7,446.1 153.1,444.6 154.7,442.5C156.3,440.4 158.0,437.8 159.4,435.9C160.8,433.9 161.8,431.9 163.1,430.8C164.3,429.7 165.7,429.3 166.9,429.4C168.1,429.5 169.3,429.9 170.2,431.2C171.1,432.4 171.8,434.4 172.5,436.9C173.2,439.4 173.8,442.6 174.4,446.3C175.0,450.1 175.6,455.0 176.2,459.4C176.8,463.8 177.5,468.1 178.1,472.5C178.7,476.9 179.4,481.0 180.0,485.6C180.6,490.2 180.9,494.6 181.4,500.0C181.9,505.4 182.5,511.5 183.2,518.0C183.8,524.5 184.6,532.2 185.3,539.0C186.0,545.8 186.6,552.1 187.4,558.7C188.2,565.3 189.3,573.0 190.2,578.4C191.1,583.8 192.1,588.5 193.0,591.1C193.9,593.7 194.4,594.8 195.9,593.9C197.4,593.0 200.1,588.5 202.2,585.6C204.3,582.7 206.5,579.5 208.7,576.2C210.9,572.9 213.0,569.2 215.3,565.9C217.7,562.6 220.3,559.3 222.8,556.5C225.3,553.7 227.5,551.5 230.3,549.0C233.1,546.5 236.5,544.0 239.6,541.5C242.7,539.0 245.9,536.2 249.0,534.0C252.1,531.8 255.3,530.2 258.4,528.4C261.5,526.6 264.4,524.6 267.5,523.1C270.6,521.6 273.7,520.5 276.8,519.3C279.9,518.1 283.1,517.3 286.2,516.1C289.3,514.9 292.5,513.1 295.6,511.9C298.7,510.7 302.2,509.9 304.9,509.0C307.5,508.1 309.3,506.9 311.5,506.4C313.7,505.9 316.1,505.7 318.1,505.8C320.1,505.9 321.8,506.4 323.7,507.2C325.6,508.0 327.4,509.3 329.3,510.9C331.2,512.5 333.0,515.2 334.9,517.0C336.8,518.8 338.3,520.5 340.5,521.7C342.7,522.9 345.4,523.9 348.0,524.1C350.6,524.3 353.0,523.5 356.1,522.7C359.2,521.9 362.8,520.4 366.8,519.1C370.8,517.8 375.7,516.4 380.2,515.1C384.7,513.8 389.6,512.3 393.6,511.1C397.6,509.9 400.6,509.0 404.3,508.0C408.0,507.0 412.4,506.1 416.0,505.3C419.6,504.5 422.7,503.9 425.8,503.1C428.9,502.3 432.3,501.0 434.7,500.4C437.1,499.8 436.1,500.2 440.0,499.6C443.9,499.0 451.9,497.7 457.9,496.6C463.8,495.5 469.8,494.1 475.7,493.0C481.6,491.9 487.6,491.3 493.6,490.2C499.6,489.1 505.5,487.5 511.5,486.3C517.5,485.1 523.4,484.0 529.4,483.0C535.4,482.0 542.1,481.0 547.2,480.3C552.3,479.6 554.9,479.5 560.0,478.7C565.1,477.9 571.9,476.5 577.9,475.5C583.9,474.5 589.8,473.7 595.7,472.6C601.7,471.6 607.6,470.3 613.6,469.2C619.6,468.1 625.5,466.9 631.5,465.9C637.5,464.8 643.4,464.0 649.4,462.9C655.4,461.8 662.1,460.3 667.2,459.2C672.3,458.1 674.9,457.4 680.0,456.4C685.1,455.4 691.9,454.4 697.9,453.3C703.9,452.2 709.8,450.9 715.7,449.5C721.7,448.1 727.6,446.6 733.6,445.2C739.6,443.8 745.5,442.4 751.5,441.0C757.5,439.6 763.4,438.4 769.4,437.0C775.4,435.6 782.1,433.6 787.2,432.3C792.3,431.0 794.9,430.3 800.0,429.0C805.1,427.7 811.9,426.1 817.9,424.5C823.9,422.9 829.8,421.0 835.7,419.3C841.7,417.6 847.6,416.0 853.6,414.4C859.6,412.8 865.5,411.1 871.5,409.5C877.5,407.9 883.4,406.3 889.4,404.6C895.4,402.9 902.1,400.8 907.2,399.2C912.3,397.6 914.9,396.7 920.0,395.0C925.1,393.3 931.9,391.4 937.9,389.2C943.9,387.0 949.8,384.5 955.7,382.0C961.7,379.5 967.6,376.8 973.6,374.4C979.6,371.9 985.5,369.8 991.5,367.3C997.5,364.8 1003.4,362.1 1009.4,359.2C1015.4,356.3 1022.1,352.4 1027.2,350.0C1032.3,347.6 1036.3,346.7 1040.0,344.9C1043.7,343.1 1046.0,341.5 1049.4,339.3C1052.8,337.1 1056.7,334.7 1060.6,331.8C1064.5,328.9 1068.4,325.6 1072.8,322.0C1077.2,318.4 1082.1,314.1 1086.8,310.3C1091.5,306.5 1097.5,301.6 1100.9,299.0C1104.3,296.4 1104.3,297.1 1107.4,294.8C1110.5,292.5 1115.8,288.2 1119.6,285.0C1123.4,281.8 1126.5,278.7 1130.0,275.4C1133.5,272.1 1137.0,269.3 1140.5,265.3C1144.0,261.3 1147.8,256.3 1151.1,251.6C1154.4,246.9 1158.1,241.1 1160.6,236.9C1163.0,232.7 1164.3,228.6 1165.8,226.4C1167.3,224.2 1168.3,224.0 1169.5,223.7C1170.7,223.4 1171.7,223.5 1172.7,224.8C1173.7,226.1 1174.5,228.3 1175.3,231.6C1176.1,234.8 1176.7,239.9 1177.4,244.3C1178.1,248.7 1178.7,254.0 1179.5,258.0C1180.3,262.0 1181.1,265.6 1182.2,268.5C1183.3,271.4 1184.8,274.5 1185.9,275.4C1187.0,276.3 1187.8,275.5 1189.0,273.8C1190.2,272.1 1191.4,268.8 1193.2,265.3C1195.0,261.8 1197.5,256.9 1199.6,252.7C1201.7,248.5 1203.6,244.2 1205.8,240.1C1208.0,236.0 1210.7,231.9 1212.9,228.0C1215.2,224.1 1216.5,221.6 1219.3,216.4C1222.1,211.2 1226.5,203.0 1229.7,197.0C1232.9,191.0 1235.5,186.5 1238.7,180.3C1241.9,174.1 1245.8,166.4 1249.0,159.7C1252.2,153.0 1255.5,145.2 1257.6,140.1C1259.7,135.0 1259.8,134.3 1261.7,129.1C1263.7,123.9 1266.8,115.8 1269.3,109.1C1271.8,102.4 1274.5,95.6 1277.0,89.2C1279.5,82.8 1281.7,77.0 1284.0,70.5C1286.3,64.0 1288.9,57.2 1291.0,50.5C1293.1,43.8 1294.1,36.3 1296.5,30.0C1298.9,23.7 1302.6,17.0 1305.2,12.9C1307.8,8.8 1309.9,5.3 1312.2,5.3C1314.5,5.3 1316.9,8.5 1319.2,12.9C1321.5,17.3 1323.9,24.4 1326.2,31.6C1328.5,38.8 1331.4,49.0 1333.3,56.2C1335.2,63.4 1336.6,70.2 1337.7,75.0C1338.8,79.8 1339.6,83.3 1340.0,85.0" stroke="#0072BD" stroke-width="1.5" fill="none"/></g>
<g clip-path="url(#c2)">
<path d="M106.21,603.85L107.03,603.90L107.89,603.96L108.77,604.02L109.68,604.08L110.60,604.15L111.54,604.21L112.47,604.28L113.39,604.35L114.31,604.42L115.20,604.50L116.06,604.57L116.88,604.65L117.67,604.72L118.40,604.80L119.10,604.87L119.78,604.95L120.44,605.01L121.09,605.08L121.73,605.14L122.35,605.21L122.97,605.27L123.58,605.34L124.18,605.41L124.78,605.48L125.37,605.56L125.95,605.65L126.54,605.74L127.12,605.84L127.71,605.96L128.30,606.08L128.89,606.21L129.49,606.36L130.09,606.52L130.70,606.70L131.32,606.89L131.94,607.10L132.57,607.31L133.20,607.54L133.83,607.78L134.47,608.03L135.10,608.28L135.74,608.55L136.37,608.82L137.00,609.11L137.63,609.40L138.25,609.69L138.87,609.99L139.49,610.30L140.09,610.61L140.69,610.92L141.29,611.24L141.87,611.56L142.44,611.88L143.00,612.20L143.55,612.52L144.09,612.84L144.63,613.15L145.15,613.46L145.67,613.77L146.19,614.09L146.69,614.41L147.20,614.73L147.69,615.06L148.18,615.40L148.67,615.75L149.15,616.11L149.63,616.48L150.10,616.87L150.57,617.28L151.04,617.70L151.51,618.14L151.97,618.60L152.44,619.09L152.90,619.60L153.36,620.14L153.82,620.70L154.28,621.29L154.74,621.91L155.20,622.55L155.65,623.20L156.11,623.87L156.55,624.56L157.00,625.26L157.44,625.97L157.87,626.69L158.30,627.41L158.73,628.13L159.14,628.86L159.56,629.58L159.96,630.30L160.36,631.02L160.75,631.72L161.13,632.42L161.50,633.10L161.86,633.77L162.21,634.43L162.55,635.08L162.88,635.72L163.20,636.36L163.51,636.99L163.82,637.63L164.12,638.26L164.42,638.90L164.71,639.54L164.99,640.18L165.28,640.84L165.56,641.51L165.85,642.18L166.13,642.87L166.42,643.58L166.71,644.30L167.00,645.05L167.30,645.81L167.60,646.60L167.91,647.42L168.21,648.26L168.53,649.13L168.84,650.02L169.15,650.93L169.46,651.86L169.78,652.81L170.09,653.76L170.41,654.73L170.72,655.70L171.03,656.67L171.34,657.65L171.65,658.62L171.95,659.58L172.25,660.54L172.55,661.49L172.84,662.42L173.13,663.33L173.42,664.23L173.70,665.10L173.98,665.97L174.25,666.84L174.52,667.72L174.79,668.60L175.06,669.49L175.32,670.37L175.59,671.24L175.85,672.11L176.10,672.97L176.36,673.82L176.61,674.65L176.85,675.46L177.10,676.26L177.34,677.02L177.57,677.77L177.81,678.48L178.04,679.17L178.26,679.81L178.48,680.43L178.70,681.00L178.91,681.54L179.12,682.06L179.31,682.55L179.51,683.02L179.70,683.46L179.88,683.88L180.06,684.28L180.24,684.65L180.41,685.00L180.58,685.33L180.75,685.62L180.92,685.90L181.09,686.15L181.26,686.37L181.43,686.57L181.60,686.75L181.77,686.90L181.94,687.02L182.12,687.12L182.30,687.20L182.48,687.25L182.66,687.28L182.84,687.29L183.01,687.27L183.19,687.23L183.36,687.17L183.54,687.08L183.71,686.97L183.89,686.83L184.06,686.66L184.24,686.47L184.42,686.25L184.60,686.01L184.79,685.74L184.98,685.44L185.18,685.11L185.37,684.75L185.58,684.36L185.79,683.95L186.00,683.50L186.22,683.02L186.45,682.49L186.68,681.93L186.92,681.33L187.16,680.69L187.41,680.03L187.66,679.33L187.91,678.61L188.17,677.86L188.42,677.09L188.68,676.30L188.94,675.50L189.21,674.68L189.47,673.84L189.73,673.00L189.99,672.14L190.24,671.29L190.50,670.42L190.75,669.56L191.00,668.70L191.25,667.83L191.49,666.92L191.74,666.00L191.99,665.05L192.23,664.08L192.48,663.10L192.72,662.10L192.97,661.09L193.21,660.07L193.46,659.05L193.70,658.02L193.94,657.00L194.19,655.97L194.43,654.95L194.68,653.94L194.92,652.94L195.17,651.96L195.41,650.98L195.66,650.03L195.90,649.10L196.14,648.18L196.38,647.26L196.62,646.33L196.86,645.41L197.10,644.49L197.33,643.57L197.57,642.66L197.80,641.75L198.04,640.86L198.28,639.97L198.51,639.09L198.75,638.23L199.00,637.37L199.24,636.54L199.49,635.71L199.74,634.91L200.00,634.13L200.26,633.36L200.53,632.62L200.80,631.90L201.07,631.20L201.34,630.53L201.61,629.87L201.88,629.23L202.15,628.61L202.42,628.01L202.69,627.42L202.97,626.84L203.25,626.28L203.54,625.74L203.83,625.20L204.13,624.68L204.44,624.17L204.75,623.67L205.08,623.17L205.42,622.69L205.77,622.21L206.13,621.73L206.51,621.26L206.90,620.80L207.31,620.34L207.73,619.90L208.16,619.47L208.60,619.04L209.05,618.63L209.52,618.23L209.99,617.84L210.47,617.45L210.96,617.08L211.46,616.71L211.97,616.35L212.48,616.00L213.01,615.66L213.53,615.32L214.07,614.99L214.61,614.66L215.15,614.34L215.70,614.02L216.25,613.71L216.80,613.40L217.35,613.10L217.89,612.80L218.41,612.52L218.94,612.24L219.46,611.97L219.98,611.71L220.51,611.45L221.04,611.20L221.59,610.95L222.14,610.71L222.72,610.48L223.31,610.25L223.92,610.02L224.56,609.80L225.23,609.58L225.93,609.36L226.66,609.14L227.43,608.93L228.25,608.71L229.10,608.50L230.01,608.29L230.99,608.07L232.03,607.86L233.11,607.65L234.25,607.44L235.42,607.23L236.62,607.02L237.84,606.82L239.09,606.62L240.34,606.43L241.59,606.24L242.84,606.06L244.09,605.89L245.31,605.72L246.51,605.56L247.68,605.41L248.81,605.27L249.89,605.13L250.93,605.01L251.90,604.90L252.83,604.80L253.73,604.71L254.60,604.64L255.44,604.58L256.27,604.52L257.07,604.47L257.85,604.44L258.61,604.41L259.35,604.38L260.07,604.36L260.79,604.35L261.49,604.34L262.17,604.33L262.85,604.33L263.52,604.32L264.18,604.32L264.84,604.32L265.50,604.31L266.15,604.31L266.80,604.30L267.44,604.29L268.06,604.28L268.67,604.28L269.25,604.28L269.83,604.28L270.39,604.28L270.94,604.28L271.48,604.29L272.01,604.30L272.54,604.31L273.07,604.32L273.60,604.33L274.12,604.35L274.65,604.36L275.19,604.38L275.73,604.40L276.28,604.42L276.84,604.45L277.41,604.47L278.00,604.50L278.60,604.53L279.23,604.56L279.86,604.60L280.51,604.63L281.17,604.67L281.84,604.72L282.51,604.76L283.19,604.80L283.86,604.85L284.54,604.90L285.21,604.95L285.87,605.00L286.52,605.05L287.16,605.10L287.78,605.15L288.39,605.20L288.98,605.25L289.54,605.30L290.09,605.35L290.60,605.40L291.09,605.45L291.55,605.50L291.99,605.54L292.41,605.59L292.81,605.64L293.20,605.69L293.57,605.74L293.93,605.79L294.28,605.84L294.62,605.89L294.95,605.94L295.28,606.00L295.61,606.05L295.94,606.10L296.26,606.15L296.60,606.20L296.93,606.25L297.28,606.30L297.63,606.35L298.00,606.40L298.37,606.45L298.74,606.49L299.11,606.54L299.47,606.58L299.84,606.62L300.20,606.66L300.56,606.70L300.93,606.74L301.29,606.78L301.66,606.82L302.02,606.86L302.39,606.91L302.77,606.95L303.14,607.00L303.52,607.06L303.91,607.12L304.30,607.18L304.69,607.25L305.09,607.32L305.50,607.40L305.92,607.48L306.34,607.57L306.77,607.67L307.21,607.76L307.66,607.86L308.11,607.97L308.57,608.07L309.03,608.18L309.49,608.30L309.96,608.41L310.42,608.53L310.88,608.65L311.34,608.78L311.80,608.90L312.25,609.03L312.69,609.16L313.13,609.29L313.56,609.43L313.99,609.56L314.40,609.70L314.81,609.84L315.21,609.99L315.61,610.15L316.01,610.31L316.40,610.47L316.79,610.64L317.18,610.81L317.56,610.99L317.94,611.16L318.32,611.34L318.69,611.51L319.06,611.68L319.42,611.86L319.77,612.02L320.13,612.18L320.47,612.34L320.81,612.49L321.15,612.64L321.48,612.77L321.80,612.90L322.12,613.02L322.42,613.14L322.73,613.25L323.02,613.35L323.31,613.45L323.59,613.55L323.87,613.65L324.14,613.74L324.41,613.82L324.67,613.91L324.93,613.99L325.19,614.06L325.44,614.14L325.69,614.21L325.95,614.28L326.20,614.35L326.45,614.41L326.70,614.48L326.95,614.54L327.20,614.60L327.45,614.66L327.70,614.72L327.94,614.77L328.18,614.82L328.42,614.87L328.66,614.91L328.89,614.96L329.13,615.00L329.36,615.04L329.59,615.08L329.82,615.11L330.05,615.14L330.28,615.17L330.50,615.19L330.73,615.22L330.96,615.24L331.20,615.26L331.43,615.27L331.66,615.29L331.90,615.30L332.14,615.31L332.37,615.32L332.60,615.33L332.84,615.34L333.07,615.34L333.30,615.35L333.53,615.35L333.76,615.35L333.99,615.35L334.22,615.34L334.46,615.33L334.70,615.32L334.93,615.30L335.18,615.28L335.42,615.25L335.67,615.21L335.92,615.17L336.18,615.12L336.44,615.06L336.70,615.00L336.97,614.93L337.23,614.85L337.50,614.77L337.76,614.68L338.02,614.58L338.29,614.48L338.56,614.37L338.83,614.26L339.11,614.15L339.39,614.02L339.67,613.90L339.96,613.77L340.26,613.63L340.57,613.50L340.88,613.35L341.20,613.21L341.54,613.06L341.88,612.91L342.23,612.76L342.60,612.60L342.98,612.44L343.37,612.27L343.78,612.09L344.20,611.90L344.63,611.71L345.08,611.51L345.52,611.31L345.98,611.10L346.44,610.90L346.91,610.69L347.38,610.48L347.86,610.27L348.33,610.06L348.81,609.85L349.28,609.65L349.76,609.45L350.23,609.25L350.69,609.06L351.15,608.88L351.60,608.70L352.05,608.53L352.51,608.36L352.97,608.18L353.43,608.01L353.90,607.84L354.37,607.67L354.84,607.51L355.31,607.34L355.77,607.18L356.24,607.03L356.70,606.87L357.15,606.72L357.60,606.57L358.05,606.43L358.48,606.30L358.91,606.16L359.32,606.04L359.73,605.92L360.12,605.81L360.50,605.70L360.86,605.60L361.21,605.51L361.53,605.43L361.85,605.35L362.15,605.28L362.43,605.21L362.71,605.15L362.99,605.10L363.26,605.05L363.52,605.00L363.79,604.96L364.06,604.91L364.33,604.87L364.61,604.83L364.89,604.80L365.19,604.76L365.49,604.72L365.81,604.68L366.15,604.64L366.50,604.60L366.86,604.56L367.22,604.52L367.57,604.49L367.92,604.45L368.28,604.42L368.64,604.40L369.00,604.37L369.37,604.34L369.75,604.32L370.14,604.29L370.54,604.27L370.95,604.24L371.39,604.22L371.83,604.19L372.30,604.17L372.79,604.14L373.31,604.11L373.84,604.07L374.41,604.04L375.00,604.00L375.60,603.96L376.19,603.92L376.78,603.87L377.37,603.83L377.97,603.78L378.57,603.74L379.19,603.69L379.83,603.64L380.50,603.59L381.19,603.54L381.92,603.49L382.69,603.43L383.50,603.38L384.36,603.33L385.27,603.27L386.24,603.22L387.28,603.16L388.38,603.11L389.55,603.05L390.80,603.00L392.13,602.94L393.54,602.89L395.01,602.83L396.56,602.77L398.17,602.70L399.83,602.64L401.55,602.58L403.32,602.52L405.13,602.45L406.97,602.39L408.86,602.32L410.77,602.26L412.71,602.20L414.67,602.14L416.65,602.08L418.63,602.02L420.63,601.96L422.62,601.90L424.61,601.85L426.60,601.80L428.50,601.75L430.24,601.70L431.87,601.65" stroke="#D95319" stroke-width="7" stroke-dasharray="26 5.5 13 5.5" fill="none"/>
<path d="M675.70,601.20L680.48,601.20L685.29,601.20L690.13,601.20L695.04,601.20L700.00,601.20L705.00,601.20L710.00,601.20L715.00,601.20L720.00,601.20L725.00,601.20L730.00,601.20L735.00,601.20L740.00,601.20L745.00,601.20L750.00,601.20L755.00,601.20L760.00,601.20L765.00,601.20" stroke="#D95319" stroke-width="7" stroke-dasharray="26 5.5 13 5.5" fill="none"/>
<path d="M1015.41,601.11L1017.94,601.08L1020.33,601.06L1022.58,601.03L1024.71,601.00L1026.74,600.98L1028.68,600.95L1030.55,600.92L1032.36,600.90L1034.13,600.87L1035.87,600.85L1037.60,600.84L1039.33,600.82L1041.08,600.81L1042.87,600.80L1044.70,600.80L1046.53,600.80L1048.28,600.80L1049.98,600.81L1051.62,600.81L1053.20,600.82L1054.74,600.83L1056.24,600.84L1057.70,600.85L1059.13,600.86L1060.54,600.88L1061.93,600.90L1063.30,600.92L1064.67,600.95L1066.04,600.97L1067.41,601.00L1068.78,601.04L1070.18,601.07L1071.59,601.11L1073.03,601.15L1074.50,601.20L1075.99,601.25L1077.49,601.29L1079.00,601.34L1080.51,601.39L1082.02,601.44L1083.54,601.49L1085.06,601.55L1086.57,601.61L1088.09,601.67L1089.60,601.73L1091.11,601.80L1092.61,601.87L1094.10,601.95L1095.58,602.04L1097.05,602.13L1098.51,602.23L1099.96,602.33L1101.39,602.45L1102.80,602.57" stroke="#D95319" stroke-width="7" stroke-dasharray="26 5.5 13 5.5" fill="none"/>
<path d="M1130.00,606.60L1130.87,606.73L1131.67,606.85L1132.40,606.96L1133.08,607.06L1133.70,607.15L1134.27,607.23L1134.80,607.31L1135.30,607.38L1135.76,607.45L1136.20,607.51L1136.62,607.58L1137.03,607.64L1137.43,607.70L1137.82,607.77L1138.23,607.84L1138.64,607.92L1139.07,608.00L1139.51,608.09L1139.99,608.19L1140.50,608.30L1141.03,608.42L1141.57,608.54L1142.12,608.66L1142.67,608.78L1143.23,608.91L1143.79,609.04L1144.35,609.17L1144.91,609.31L1145.46,609.45L1146.02,609.59L1146.57,609.74L1147.11,609.89L1147.65,610.04L1148.18,610.20L1148.70,610.36L1149.21,610.52L1149.70,610.68L1150.19,610.85L1150.65,611.02L1151.10,611.20L1151.53,611.38L1151.95,611.55L1152.35,611.73L1152.73,611.91L1153.10,612.09L1153.46,612.28L1153.82,612.46L1154.16,612.65L1154.50,612.85L1154.83,613.04L1155.15,613.25L1155.47,613.46L1155.79,613.67L1156.11,613.89L1156.43,614.12L1156.76,614.36L1157.08,614.61L1157.42,614.86L1157.75,615.13L1158.10,615.40L1158.45,615.69L1158.81,615.98L1159.17,616.29L1159.53,616.61L1159.90,616.94L1160.27,617.27L1160.63,617.62L1161.00,617.96L1161.37,618.32L1161.73,618.68L1162.09,619.05L1162.45,619.42L1162.81,619.79L1163.15,620.16L1163.50,620.54L1163.83,620.91L1164.16,621.29L1164.49,621.66L1164.80,622.03L1165.10,622.40L1165.39,622.77L1165.68,623.14L1165.96,623.50L1166.23,623.87L1166.49,624.24L1166.75,624.61L1167.00,624.99L1167.24,625.36L1167.49,625.74L1167.72,626.12L1167.96,626.50L1168.19,626.89L1168.42,627.27L1168.65,627.67L1168.87,628.06L1169.10,628.46L1169.32,628.86L1169.55,629.27L1169.77,629.68L1170.00,630.10L1170.23,630.53L1170.45,630.96L1170.67,631.41L1170.88,631.86L1171.10,632.32L1171.31,632.79L1171.52,633.26L1171.73,633.74L1171.93,634.21L1172.14,634.69L1172.34,635.16L1172.55,635.64L1172.75,636.11L1172.95,636.57L1173.16,637.03L1173.36,637.49L1173.57,637.93L1173.78,638.36L1173.99,638.79L1174.20,639.20L1174.41,639.61L1174.63,640.04L1174.85,640.47L1175.07,640.91L1175.29,641.35L1175.51,641.79L1175.73,642.23L1175.95,642.66L1176.17,643.08L1176.39,643.49L1176.61,643.89L1176.83,644.27L1177.05,644.63L1177.27,644.96L1177.48,645.27L1177.69,645.55L1177.90,645.79L1178.10,646.00L1178.30,646.17L1178.50,646.30L1178.69,646.39L1178.88,646.45L1179.06,646.47L1179.24,646.46L1179.41,646.43L1179.59,646.37L1179.76,646.28L1179.92,646.17L1180.09,646.03L1180.26,645.88L1180.42,645.70L1180.59,645.51L1180.76,645.30L1180.92,645.07L1181.09,644.83L1181.27,644.58L1181.44,644.32L1181.63,644.06L1181.81,643.78L1182.00,643.50L1182.19,643.21L1182.39,642.89L1182.59,642.55L1182.78,642.20L1182.98,641.82L1183.19,641.43L1183.39,641.03L1183.60,640.61L1183.80,640.17L1184.01,639.73L1184.22,639.28L1184.44,638.82L1184.65,638.35L1184.87,637.88L1185.08,637.40L1185.30,636.92L1185.53,636.44L1185.75,635.96L1185.97,635.48L1186.20,635.00L1186.43,634.51L1186.66,634.01L1186.89,633.49L1187.12,632.95L1187.36,632.40L1187.60,631.84L1187.84,631.28L1188.08,630.71L1188.32,630.14L1188.56,629.57L1188.81,629.00L1189.06,628.44L1189.31,627.89L1189.56,627.35L1189.81,626.83L1190.06,626.32L1190.32,625.83L1190.58,625.36L1190.84,624.92L1191.10,624.50L1191.36,624.10L1191.63,623.72L1191.89,623.36L1192.15,623.01L1192.42,622.67L1192.68,622.34L1192.95,622.03L1193.22,621.72L1193.49,621.43L1193.77,621.16L1194.05,620.89L1194.33,620.63L1194.61,620.38L1194.90,620.15L1195.19,619.92L1195.48,619.70L1195.78,619.49L1196.08,619.28L1196.39,619.09L1196.70,618.90L1197.02,618.72L1197.35,618.56L1197.68,618.41L1198.02,618.27L1198.37,618.15L1198.72,618.03L1199.07,617.93L1199.43,617.83L1199.79,617.75L1200.16,617.67L1200.52,617.60L1200.88,617.53L1201.25,617.47L1201.61,617.41L1201.97,617.36L1202.32,617.30L1202.67,617.25L1203.02,617.20L1203.36,617.15L1203.70,617.10L1204.02,617.05L1204.32,617.01L1204.60,616.97L1204.86,616.93L1205.12,616.90L1205.36,616.87L1205.61,616.85L1205.85,616.83L1206.09,616.82L1206.34,616.81L1206.61,616.80L1206.88,616.79L1207.17,616.79L1207.49,616.78L1207.82,616.78L1208.19,616.78L1208.58,616.79L1209.02,616.79L1209.49,616.80L1210.00,616.80L1210.55,616.80L1211.12,616.78L1211.71,616.76L1212.32,616.73L1212.96,616.69L1213.62,616.65L1214.30,616.61L1215.00,616.57L1215.73,616.54L1216.47,616.52L1217.24,616.51L1218.03,616.51L1218.84,616.52L1219.68,616.56L1220.53,616.61L1221.40,616.69L1222.30,616.80L1223.21,616.93L1224.15,617.10L1225.10,617.30L1226.09,617.53L1227.11,617.78L1228.17,618.06L1229.26,618.35L1230.39,618.67L1231.54,619.01L1232.71,619.37L1233.90,619.75L1235.11,620.14L1236.33,620.56L1237.56,620.99L1238.80,621.43L1240.05,621.89L1241.29,622.37L1242.54,622.86L1243.77,623.37L1245.00,623.88L1246.22,624.41L1247.42,624.95L1248.60,625.50L1249.78,626.06L1250.98,626.64L1252.18,627.24L1253.40,627.85L1254.62,628.48L1255.85,629.12L1257.08,629.78L1258.30,630.45L1259.53,631.14L1260.74,631.84L1261.95,632.55L1263.15,633.28L1264.33,634.01L1265.50,634.76L1266.64,635.53L1267.77,636.30L1268.87,637.08L1269.94,637.88L1270.99,638.68L1272.00,639.50L1272.98,640.33L1273.94,641.16L1274.88,642.02L1275.80,642.88L1276.70,643.75L1277.58,644.64L1278.44,645.54L1279.29,646.45L1280.12,647.38L1280.93,648.31L1281.73,649.26L1282.51,650.22L1283.29,651.19L1284.05,652.17L1284.79,653.16L1285.53,654.17L1286.26,655.18L1286.98,656.21L1287.69,657.25L1288.40,658.30L1289.09,659.36L1289.77,660.43L1290.43,661.52L1291.08,662.61L1291.71,663.72L1292.33,664.83L1292.93,665.96L1293.53,667.10L1294.11,668.26L1294.69,669.42L1295.25,670.59L1295.81,671.78L1296.36,672.98L1296.91,674.19L1297.45,675.41L1297.98,676.65L1298.51,677.89L1299.04,679.15L1299.57,680.42L1300.10,681.70L1300.62,683.00L1301.14,684.33L1301.66,685.68L1302.17,687.06L1302.67,688.45L1303.16,689.86L1303.66,691.28L1304.14,692.71L1304.62,694.15L1305.09,695.60L1305.56,697.05L1306.02,698.50L1306.48,699.95L1306.93,701.39L1307.37,702.83L1307.81,704.25L1308.24,705.66L1308.67,707.06L1309.09,708.44L1309.50,709.80L1309.90,711.14L1310.29,712.46L1310.66,713.77L1311.02,715.07L1311.36,716.36L1311.70,717.64L1312.03,718.91L1312.36,720.18L1312.68,721.44L1313.00,722.70L1313.32,723.96L1313.64,725.22L1313.97,726.49L1314.30,727.76L1314.64,729.04L1314.98,730.33L1315.34,731.63L1315.71,732.94L1316.10,734.26L1316.50,735.60L1316.91,736.96L1317.33,738.33L1317.76,739.71L1318.19,741.11L1318.63,742.52L1319.07,743.93L1319.52,745.36L1319.98,746.78L1320.44,748.22L1320.91,749.65L1321.38,751.08L1321.86,752.52L1322.34,753.94L1322.84,755.37L1323.33,756.78L1323.83,758.19L1324.34,759.59L1324.86,760.97L1325.38,762.34L1325.90,763.70L1326.44,765.07L1327.02,766.46L1327.62,767.89L1328.24,769.33L1328.88,770.79L1329.53,772.25L1330.20,773.71L1330.86,775.16L1331.53,776.60L1332.19,778.01L1332.84,779.40L1333.48,780.75L1334.10,782.06L1334.70,783.32L1335.28,784.53L1335.82,785.68L1336.33,786.75L1336.80,787.75L1337.22,788.67L1337.60,789.50L1337.93,790.24L1338.23,790.90L1338.49,791.48L1338.71,791.99L1338.91,792.43L1339.08,792.82L1339.22,793.14L1339.34,793.43L1339.45,793.66L1339.53,793.86L1339.60,794.03L1339.66,794.17L1339.71,794.29L1339.75,794.39L1339.79,794.49L1339.82,794.58L1339.86,794.67L1339.90,794.76L1339.95,794.87" stroke="#D95319" stroke-width="7" stroke-dasharray="26 5.5 13 5.5" fill="none"/>
<path d="M102.5,603.6C105.2,603.8 113.7,604.3 118.4,604.8C123.1,605.3 126.6,605.5 130.7,606.7C134.8,607.9 139.3,610.1 143.0,612.2C146.7,614.4 149.8,616.1 152.9,619.6C156.0,623.1 159.1,628.6 161.5,633.1C163.9,637.6 165.6,641.3 167.6,646.6C169.6,651.9 171.8,659.4 173.7,665.1C175.5,670.8 177.3,677.3 178.7,681.0C180.1,684.7 181.1,686.8 182.3,687.2C183.5,687.6 184.6,686.6 186.0,683.5C187.4,680.4 189.3,674.4 191.0,668.7C192.7,663.0 194.3,655.2 195.9,649.1C197.5,643.0 199.0,636.6 200.8,631.9C202.6,627.2 204.2,623.9 206.9,620.8C209.6,617.7 213.1,615.4 216.8,613.4C220.5,611.4 223.2,609.9 229.1,608.5C234.9,607.1 245.6,605.6 251.9,604.9C258.2,604.2 262.4,604.4 266.8,604.3C271.2,604.2 274.0,604.3 278.0,604.5C282.0,604.7 287.3,605.1 290.6,605.4C293.9,605.7 295.5,606.1 298.0,606.4C300.5,606.7 302.8,606.8 305.5,607.4C308.2,608.0 311.7,608.8 314.4,609.7C317.1,610.6 319.7,612.1 321.8,612.9C323.9,613.7 325.5,614.2 327.2,614.6C328.9,615.0 330.3,615.2 331.9,615.3C333.5,615.4 334.9,615.5 336.7,615.0C338.5,614.5 340.1,613.6 342.6,612.6C345.1,611.6 348.6,609.9 351.6,608.7C354.6,607.6 358.0,606.4 360.5,605.7C363.0,605.0 364.1,604.9 366.5,604.6C368.9,604.3 370.9,604.3 375.0,604.0C379.1,603.7 382.2,603.4 390.8,603.0C399.4,602.6 413.4,602.1 426.6,601.8C439.8,601.5 441.1,601.1 470.0,601.0C498.9,600.9 561.7,601.2 600.0,601.2C638.3,601.2 666.7,601.2 700.0,601.2C733.3,601.2 766.7,601.2 800.0,601.2C833.3,601.2 866.7,601.2 900.0,601.2C933.3,601.2 975.9,601.3 1000.0,601.2C1024.1,601.1 1032.3,600.8 1044.7,600.8C1057.1,600.8 1064.6,600.9 1074.5,601.2C1084.4,601.5 1095.0,601.8 1104.2,602.7C1113.5,603.6 1124.0,605.7 1130.0,606.6C1136.0,607.5 1137.0,607.5 1140.5,608.3C1144.0,609.1 1148.2,610.0 1151.1,611.2C1154.0,612.4 1155.8,613.5 1158.1,615.4C1160.4,617.3 1163.1,619.9 1165.1,622.4C1167.1,624.9 1168.5,627.3 1170.0,630.1C1171.5,632.9 1172.8,636.5 1174.2,639.2C1175.6,641.9 1177.2,645.6 1178.5,646.3C1179.8,647.0 1180.7,645.4 1182.0,643.5C1183.3,641.6 1184.7,638.2 1186.2,635.0C1187.7,631.8 1189.3,627.2 1191.1,624.5C1192.8,621.8 1194.6,620.1 1196.7,618.9C1198.8,617.7 1201.5,617.5 1203.7,617.1C1205.9,616.8 1206.4,616.8 1210.0,616.8C1213.6,616.8 1218.7,615.8 1225.1,617.3C1231.5,618.8 1240.8,621.8 1248.6,625.5C1256.4,629.2 1265.4,634.0 1272.0,639.5C1278.6,645.0 1283.7,651.3 1288.4,658.3C1293.1,665.3 1296.6,673.1 1300.1,681.7C1303.6,690.3 1306.8,700.8 1309.5,709.8C1312.2,718.8 1313.8,726.6 1316.5,735.6C1319.2,744.6 1322.4,754.7 1325.9,763.7C1329.4,772.7 1335.2,784.3 1337.6,789.5C1339.9,794.7 1339.6,794.1 1340.0,795.0" stroke="#0072BD" stroke-width="1.5" fill="none"/></g>
<path d="M119.0,5V17M119.0,596V584M119.0,600V612M119.0,793V781M274.0,5V17M274.0,596V584M274.0,600V612M274.0,793V781M428.5,5V17M428.5,596V584M428.5,600V612M428.5,793V781M583.5,5V17M583.5,596V584M583.5,600V612M583.5,793V781M738.0,5V17M738.0,596V584M738.0,600V612M738.0,793V781M893.0,5V17M893.0,596V584M893.0,600V612M893.0,793V781M1048.0,5V17M1048.0,596V584M1048.0,600V612M1048.0,793V781M1202.5,5V17M1202.5,596V584M1202.5,600V612M1202.5,793V781M102,50.0H114M1338,50.0H1326M102,403.5H114M1338,403.5H1326M102,66.0H108M1338,66.0H1332M102,84.0H108M1338,84.0H1332M102,105.0H108M1338,105.0H1332M102,128.5H108M1338,128.5H1332M102,156.5H108M1338,156.5H1332M102,191.0H108M1338,191.0H1332M102,235.0H108M1338,235.0H1332M102,297.0H108M1338,297.0H1332M102,420.0H108M1338,420.0H1332M102,438.0H108M1338,438.0H1332M102,458.0H108M1338,458.0H1332M102,482.0H108M1338,482.0H1332M102,510.0H108M1338,510.0H1332M102,544.0H108M1338,544.0H1332M102,588.5H108M1338,588.5H1332M102,602.0H114M1338,602.0H1326M102,673.0H114M1338,673.0H1326M102,744.0H114M1338,744.0H1326M102,5H1338V596H102ZM102,600H1338V793H102Z" stroke="#1a1a1a" stroke-width="1" fill="none"/>
<path d="M176,7V596M176,600V793M331,7V596M331,600V793M721,7V596M721,600V793M1061,7V596M1061,600V793M1177,7V596M1177,600V793M1313,7V596M1313,600V793" stroke="#000" stroke-width="2" stroke-dasharray="1 3" stroke-dashoffset="0" fill="none"/>
<g fill="#262626" font-size="29" text-anchor="middle">
<text transform="translate(118.55,634.60) scale(1.015,1.06)">3850</text>
<text transform="translate(118.55,818.00) scale(1.015,1.06)">3850</text>
<text transform="translate(273.55,634.60) scale(1.015,1.06)">3900</text>
<text transform="translate(273.55,818.00) scale(1.015,1.06)">3900</text>
<text transform="translate(428.05,634.60) scale(1.015,1.06)">3950</text>
<text transform="translate(428.05,818.00) scale(1.015,1.06)">3950</text>
<text transform="translate(583.05,634.60) scale(1.015,1.06)">4000</text>
<text transform="translate(583.05,818.00) scale(1.015,1.06)">4000</text>
<text transform="translate(737.55,634.60) scale(1.015,1.06)">4050</text>
<text transform="translate(737.55,818.00) scale(1.015,1.06)">4050</text>
<text transform="translate(892.55,634.60) scale(1.015,1.06)">4100</text>
<text transform="translate(892.55,818.00) scale(1.015,1.06)">4100</text>
<text transform="translate(1047.55,634.60) scale(1.015,1.06)">4150</text>
<text transform="translate(1047.55,818.00) scale(1.015,1.06)">4150</text>
<text transform="translate(1202.05,634.60) scale(1.015,1.06)">4200</text>
<text transform="translate(1202.05,818.00) scale(1.015,1.06)">4200</text>
<text x="720" y="842.5">Frequency [Hz]</text>
</g>
<g fill="#262626" font-size="29" text-anchor="end">
<text transform="translate(70.1,64.5) scale(1.015,1.06)">10</text><text transform="translate(88.9,51.0) scale(1,1.1)" font-size="22.5">-1</text>
<text transform="translate(70.1,419.3) scale(1.015,1.06)">10</text><text transform="translate(91.3,404.9) scale(1,1.1)" font-size="22.5">-2</text>
<text transform="translate(92.1,754.7) scale(1.015,1.06)">0</text>
<text transform="translate(92.1,684.0) scale(1.015,1.06)">50</text>
<text transform="translate(92.1,612.5) scale(1.015,1.06)">100</text>
</g>
<text transform="translate(25.9,299.2) rotate(-90) scale(1.01,0.97)" fill="#262626" font-size="29" text-anchor="middle">|Velocity| [m/s/N]</text>
<text transform="translate(31,694.5) rotate(-90)" fill="#262626" font-size="29" text-anchor="middle">phase (w) [deg]</text>
</svg></body></html>
